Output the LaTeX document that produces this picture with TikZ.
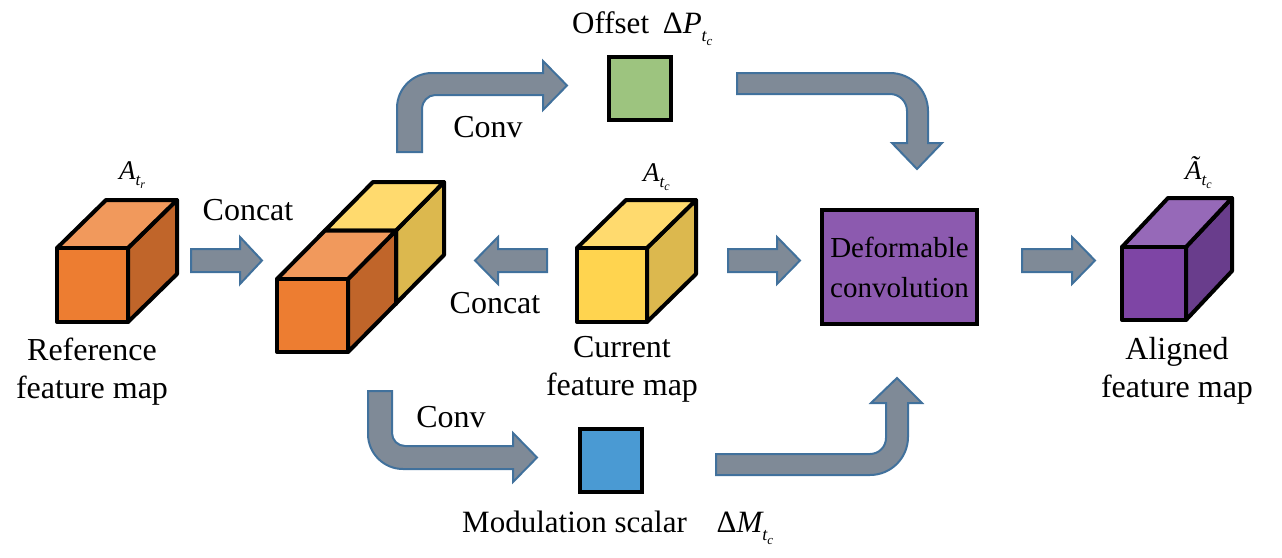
\documentclass[tikz,border=0pt]{standalone}
\usepackage{fontspec}
\setmainfont{Liberation Serif}
\definecolor{arrowfill}{HTML}{7F8A97}
\definecolor{arrowdraw}{HTML}{41719C}
\definecolor{orfront}{HTML}{ED7D31}
\definecolor{ortop}{HTML}{F1995C}
\definecolor{orside}{HTML}{C0652A}
\definecolor{yefront}{HTML}{FFD44F}
\definecolor{yetop}{HTML}{FFDA6E}
\definecolor{yeside}{HTML}{DCB84E}
\definecolor{pufront}{HTML}{7E45A5}
\definecolor{putop}{HTML}{9669B8}
\definecolor{puside}{HTML}{693D8C}
\definecolor{dcnfill}{HTML}{8C5AAF}
\definecolor{offgreen}{HTML}{9DC47F}
\definecolor{modblue}{HTML}{4A9AD3}
\newcommand\mycube[9]{%
  \filldraw[edge, fill=#9] ({#1+#3},#2) -- ({#1+#3+#5},{#2+#6}) -- ({#1+#3+#5},{#2+#4+#6}) -- ({#1+#3},{#2+#4}) -- cycle;
  \filldraw[edge, fill=#8] (#1,#2) -- ({#1+#5},{#2+#6}) -- ({#1+#3+#5},{#2+#6}) -- ({#1+#3},#2) -- cycle;
  \filldraw[edge, fill=#7] (#1,#2) rectangle ({#1+#3},{#2+#4});
}
\newcommand\albl[2]{{\fontsize{27}{27}\selectfont\itshape #1}\raisebox{-6pt}{\fontsize{17}{17}\selectfont\itshape t\raisebox{-3.5pt}{\fontsize{12}{12}\selectfont #2}}}
\newcommand\dlbl[1]{Δ{\itshape #1}\raisebox{-8pt}{\fontsize{18}{18}\selectfont\itshape t\raisebox{-4pt}{\fontsize{13}{13}\selectfont c}}}
\tikzset{
  blockarrow/.style={fill=arrowfill, draw=arrowdraw, line width=2pt, line join=miter},
  edge/.style={draw=black, line width=4pt, line join=round},
  txt/.style={font=\fontsize{32}{38}\selectfont, inner sep=0pt, align=center},
  sqbox/.style={draw=black, line width=4pt, inner sep=0pt},
}
\begin{document}
\begin{tikzpicture}[x=1pt,y=-1pt]
\useasboundingbox (0,0) rectangle (1282,557);

% cubes
\mycube{57}{248}{71}{74}{49}{-48}{orfront}{ortop}{orside}
\mycube{325}{230.5}{71}{73}{48}{-48.5}{yefront}{yetop}{yeside}
\mycube{277}{279}{71}{73}{48}{-48.5}{orfront}{ortop}{orside}
\mycube{577}{248}{70}{74}{49}{-48}{yefront}{yetop}{yeside}
\mycube{1122}{247}{64}{73}{46}{-49}{pufront}{putop}{puside}

% cube labels
\node[inner sep=0pt, anchor=base west] (atr) at (119,179) {\albl{A}{r}};
\node[inner sep=0pt, anchor=base west] (atc) at (643,181) {\albl{A}{c}};
\node[inner sep=0pt, anchor=base west] (aal) at (1185,179) {\albl{Ã}{c}};

% boxes
\node[sqbox, fill=offgreen, minimum width=62pt, minimum height=63pt, anchor=north west] (off) at (607,55) {};
\node[sqbox, fill=modblue, minimum width=62pt, minimum height=63pt, anchor=north west] (mod) at (578,427) {};
\node[sqbox, fill=dcnfill, minimum width=155pt, minimum height=114pt, anchor=north west, align=center, font=\fontsize{29}{40}\selectfont] (dcn) at (820,208) {Deformable\\convolution};

% straight block arrows
\filldraw[blockarrow] (191,249) -- (240,249) -- (240,237) -- (262,260.5) -- (240,284) -- (240,272) -- (191,272) -- cycle;
\filldraw[blockarrow] (547,249) -- (498,249) -- (498,237) -- (475,260.5) -- (498,284) -- (498,272) -- (547,272) -- cycle;
\filldraw[blockarrow] (728,249) -- (777,249) -- (777,237) -- (800,260.5) -- (777,284) -- (777,272) -- (728,272) -- cycle;
\filldraw[blockarrow] (1022,249) -- (1072,249) -- (1072,237) -- (1095,260.5) -- (1072,284) -- (1072,272) -- (1022,272) -- cycle;

% bent block arrows
\filldraw[blockarrow] (397,152) -- (397,108) .. controls (397,88.7) and (412.7,73) .. (432,73) -- (543,73) -- (543,61) -- (567,85.5) -- (543,110) -- (543,95) -- (435,95) .. controls (427.8,95) and (422,102.2) .. (422,108) -- (422,152) -- cycle;
\filldraw[blockarrow] (737,73) -- (890,73) .. controls (911,73) and (928,90) .. (928,111) -- (928,143) -- (942,143) -- (917,169) -- (892,143) -- (907,143) -- (907,111) .. controls (907,101.6) and (899.4,94) .. (890,94) -- (737,94) -- cycle;
\filldraw[blockarrow] (716,454) -- (870,454) .. controls (878.8,454) and (886,446.8) .. (886,438) -- (886,403) -- (871,403) -- (897,378) -- (922,403) -- (908,403) -- (908,437) .. controls (908,458) and (891,475) .. (870,475) -- (716,475) -- cycle;
\filldraw[blockarrow] (368,391) -- (368,434) .. controls (368,453.3) and (383.7,469) .. (403,469) -- (513,469) -- (513,482) -- (537,457.5) -- (513,433) -- (513,446) -- (405,446) .. controls (397.8,446) and (392,440.2) .. (392,433) -- (392,391) -- cycle;

% texts
\node[txt, anchor=base] (c1) at (248,220) {Concat};
\node[txt, anchor=base] (c2) at (495,313) {Concat};
\node[txt, anchor=base] (v1) at (488,137) {Conv};
\node[txt, anchor=base] (v2) at (451,427) {Conv};
\node[txt, anchor=base] (ref) at (92,398) {Reference\\feature map};
\node[txt, anchor=base] (cur) at (622,395) {Current\\feature map};
\node[txt, anchor=base] (ali) at (1177,397) {Aligned\\feature map};
\node[txt, anchor=base west, font=\fontsize{31}{38}\selectfont] (offl) at (572,33) {Offset\hspace{6pt} \dlbl{P}};
\node[txt, anchor=base west, font=\fontsize{31}{38}\selectfont] (modl) at (462,532) {Modulation scalar\hspace{22pt} \dlbl{M}};
\end{tikzpicture}
\end{document}
